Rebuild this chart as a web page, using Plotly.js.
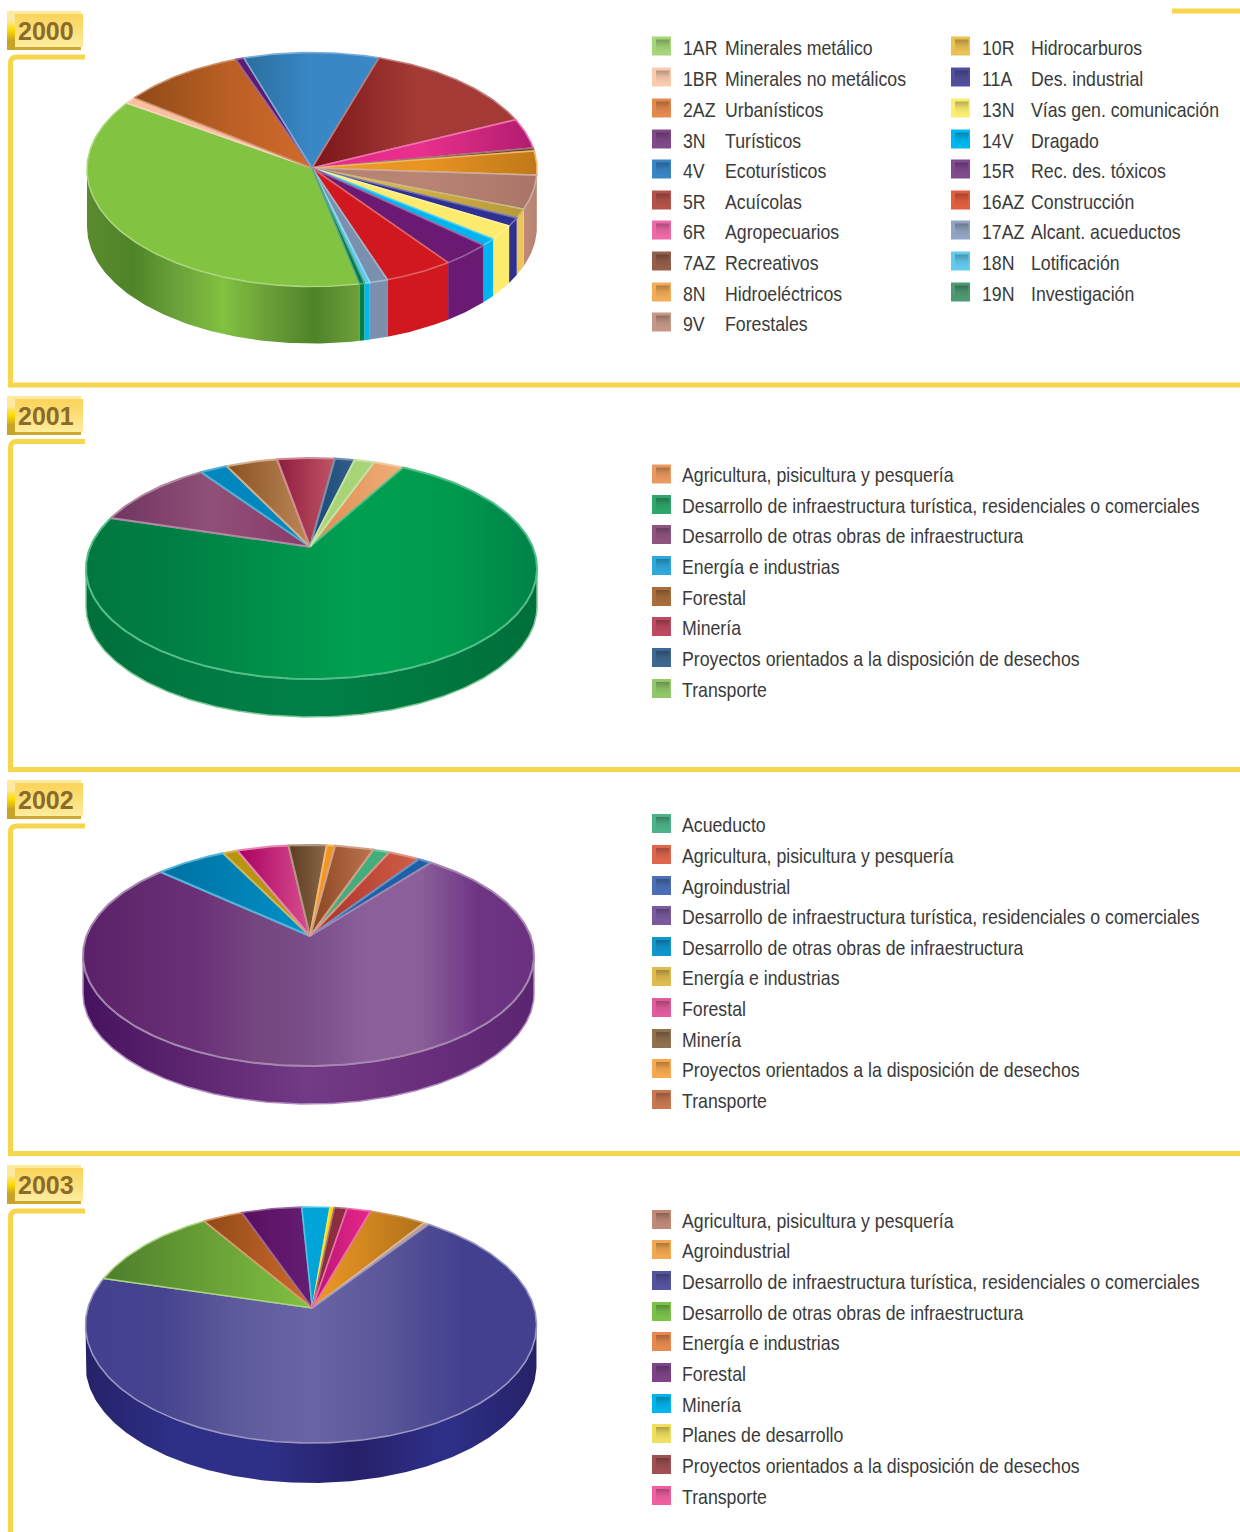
<!DOCTYPE html>
<html><head><meta charset="utf-8">
<script src="https://cdn.plot.ly/plotly-3.0.1.min.js"></script>
<style>html,body{margin:0;padding:0;background:#fff;overflow:hidden}#c{width:1240px;height:1532px}</style>
</head><body><div id="c"></div>
<script>
// ---------- DATA ----------
const years = ['2000','2001','2002','2003'];

const codes2000 = ['1AR','1BR','2AZ','3N','4V','5R','6R','7AZ','8N','9V','10R','11A','13N','14V','15R','16AZ','17AZ','18N','19N'];
const names2000 = ['Minerales metálico','Minerales no metálicos','Urbanísticos','Turísticos','Ecoturísticos','Acuícolas','Agropecuarios','Recreativos','Hidroeléctricos','Forestales','Hidrocarburos','Des. industrial','Vías gen. comunicación','Dragado','Rec. des. tóxicos','Construcción','Alcant. acueductos','Lotificación','Investigación'];
const values2000 = [38.0,0.9,9.0,0.6,9.7,13.2,4.05,0.4,3.3,4.75,1.3,1.2,2.1,1.1,3.45,4.9,1.3,0.4,0.35];

const names2001 = ['Agricultura, pisicultura y pesquería','Desarrollo de infraestructura turística, residenciales o comerciales','Desarrollo de otras obras de infraestructura','Energía e industrias','Forestal','Minería','Proyectos orientados a la disposición de desechos','Transporte'];
const values2001 = [2.2,75.9,9.3,2.0,3.7,4.1,1.4,1.4];

const names2002 = ['Acueducto','Agricultura, pisicultura y pesquería','Agroindustrial','Desarrollo de infraestructura turística, residenciales o comerciales','Desarrollo de otras obras de infraestructura','Energía e industrias','Forestal','Minería','Proyectos orientados a la disposición de desechos','Transporte'];
const values2002 = [1.2,2.3,1.0,79.5,5.2,1.05,3.7,2.7,0.6,2.75];

const names2003 = ['Agricultura, pisicultura y pesquería','Agroindustrial','Desarrollo de infraestructura turística, residenciales o comerciales','Desarrollo de otras obras de infraestructura','Energía e industrias','Forestal','Minería','Planes de desarrollo','Proyectos orientados a la disposición de desechos','Transporte'];
const values2003 = [0.4,4.1,72.7,10.7,2.9,4.3,2.0,0.3,0.9,1.7];
// clockwise drawing order of the 2003 slices (index into the legend order)
const order2003 = [1,0,2,3,4,5,6,7,8,9];

// ---------- STYLE ----------
const swatch2000 = ['#A5D67A','#FBCBB0','#E58A4E','#804A8A','#3A85C5','#B5534A','#EE6AA8','#965E4C','#F4AC58','#C59888','#EBC255','#52509E','#FCEE72','#00B8F0','#824A90','#E2603F','#92A5C2','#63CBEE','#4E9A72'];
const swatch2001 = ['#EA9A60','#2FA66A','#8F5580','#2FA8DC','#A86E3C','#BC4A60','#3D6890','#92C86A'];
const swatch2002 = ['#4DB28A','#E0674E','#4C6FB8','#7C5AA0','#1098CC','#E0BC50','#E25C9C','#90704E','#F8A850','#C87850'];
const swatch2003 = ['#C08A78','#F2A850','#5454A0','#7CC24A','#E68A50','#7E4488','#00B4EC','#F0E060','#A05050','#F060A0'];

const top2000 = [['#82C341'],['#F9BFA0'],['#8F4A18','#B85E24','#D26A2C'],['#5E1A70'],['#2A6E9E','#3A87C6','#3A87C6'],['#7A1519','#A33A35','#A33A35'],['#E6288A','#E8308C','#B01C6E'],['#6B3A2A'],['#EE9A24','#E89422','#C07818'],['#B58070','#B88574','#A87568'],['#EFC24E','#B59A3A'],['#2E3192'],['#FDEB6E'],['#00B5EF'],['#6A1A72'],['#D0181E'],['#7B90AF'],['#5BC8EE'],['#007A4C']];
const wall2000 = [['#5A8A2E','#4F8428','#6BA23A','#82C141','#6A9E38','#4F8329','#6D9F3B'],null,null,null,null,null,null,null,null,['#C08A78','#B58371'],['#EBC55A'],null,null,null,null,null,null,['#00B8EE'],['#00804D']];
const top2001 = [['#DE8C4E','#EFAE78'],['#00773F','#007F45','#008F4A','#00A050','#009A4E','#008348'],['#6F3560','#8F5078','#8A3A6A'],['#0088BE'],['#8A5020','#BC8858'],['#8E1C3E','#C05565'],['#174A76','#355C8A'],['#A8D478']];
const wall2001 = [null,['#006F3B','#007A42','#008048','#00783F','#006F3B']];
const top2002 = [['#43AE7C'],['#A83028','#D06048'],['#1E5FA8'],['#5A2069','#62296F','#6A2F78','#74457F','#7A4E88','#8A5F9A','#8A5F9A','#6F3585','#6B3080'],['#0070A0','#0091C8'],['#B8940F'],['#A80060','#D84E8E'],['#5C3C20','#8A6848'],['#F29420'],['#8A4620','#BC7450']];
const wall2002 = [null,null,null,['#46125F','#5E2670','#733A85','#6A2F7C','#5A2570']];
const top2003 = [['#C49A84'],['#EF9A24','#B0701A'],['#43418F','#46448F','#5D5A9C','#6A64A4','#5A5699','#43418F','#43418F'],['#4E7E2C','#82C141'],['#8F4A18','#D0692A'],['#5A0E62','#651E72'],['#00A4D8'],['#F4D800'],['#8A2E40'],['#B81473','#E6288A']];
const wall2003 = [null,null,['#262268','#2E3088','#2E3088','#26206A','#2E3088','#262268']];

const frameColor = '#F7D54C';
const textFont = '"Liberation Sans",sans-serif';
const narrow = 0.843; // legend lettering in the reference is a condensed cut

// Pie geometry in page pixels
const pies = [
 {values:values2000, top:top2000, wall:wall2000, start:167.8, cx:312, cy:169.5, rx:225, ry:117, ax:312, ay:168, depth:57, rim:false, stroke:1.6},
 {values:values2001, top:top2001, wall:wall2001, start:16.06, cx:311.5, cy:568.5, rx:225.5, ry:110.5, ax:310, ay:546.7, depth:38, rim:'#7FC795', stroke:2},
 {values:values2002, top:top2002, wall:wall2002, start:16.7, cx:308.5, cy:955.5, rx:225.5, ry:110.5, ax:310, ay:936, depth:38, rim:'#B08CC0', stroke:2},
 {values:order2003.map(i=>values2003[i]), top:order2003.map(i=>top2003[i]), wall:order2003.map(i=>wall2003[i]), start:15.3, cx:311, cy:1325, rx:225.5, ry:118, ax:312.3, ay:1308, depth:40, rim:false, stroke:1.6}
];

// ---------- HELPERS ----------
function rgb(h){return [1,3,5].map(i=>parseInt(h.substr(i,2),16));}
function mix(h,t,f){const a=rgb(h),b=rgb(t);return 'rgb('+a.map((v,i)=>Math.round(v+(b[i]-v)*f)).join(',')+')';}
function scale(stops){
  if(stops.length===1) return [[0,stops[0]],[1,stops[0]]];
  return stops.map((c,i)=>[i/(stops.length-1),c]);
}
const traces=[];
function poly(xs,ys,grad,line,lw){
  traces.push({type:'scatter',mode:'lines',x:xs,y:ys,fill:'toself',hoverinfo:'skip',showlegend:false,
    fillgradient:grad,line:{color:line||'rgba(0,0,0,0)',width:lw||0,shape:'linear'}});
}
function arc(p,a,b,dy){
  const xs=[],ys=[],n=Math.max(2,Math.ceil(Math.abs(b-a)));
  for(let i=0;i<=n;i++){const t=(a+(b-a)*i/n)*Math.PI/180;
    xs.push(p.cx+p.rx*Math.sin(t));ys.push(p.cy-p.ry*Math.cos(t)+(dy||0));}
  return [xs,ys];
}
function rect(x0,y0,x1,y1,stops){
  poly([x0,x1,x1,x0,x0],[y0,y0,y1,y1,y0],{type:'vertical',colorscale:scale(stops),start:y0,stop:y1});
}

// ---------- PIES ----------
pies.forEach(p=>{
  const total=p.values.reduce((s,v)=>s+v,0);
  const spans=[];let a=p.start;
  p.values.forEach(v=>{const b=a+v/total*360;spans.push([a,b]);a=b;});
  // walls: only the front half of the cylinder is visible
  spans.forEach((s,i)=>{
    [[90,270],[450,630]].forEach(w=>{
      const l=Math.max(s[0],w[0]),h=Math.min(s[1],w[1]);
      if(h<=l) return;
      const up=arc(p,l,h,0),dn=arc(p,h,l,p.depth);
      const stops=p.wall[i]||p.top[i];
      const big=stops.length>2;
      const g={type:'horizontal',colorscale:scale(stops)};
      if(big&&p.rim){g.start=p.cx-p.rx;g.stop=p.cx+p.rx;}
      poly(up[0].concat(dn[0],[up[0][0]]),up[1].concat(dn[1],[up[1][0]]),g,p.rim||null,p.rim?1.5:0);
    });
  });
  // top faces
  spans.forEach((s,i)=>{
    const r=arc(p,s[0],s[1],0);
    const stops=p.top[i];
    const g={type:'horizontal',colorscale:scale(stops)};
    if(stops.length>5){g.start=p.cx-p.rx;g.stop=p.cx+p.rx;}
    const last=stops[Math.floor(stops.length/2)];
    poly([p.ax].concat(r[0],[p.ax]),[p.ay].concat(r[1],[p.ay]),g,mix(last,'#FFFFFF',0.32),p.stroke);
  });
});

// ---------- LEGENDS ----------
const ann=[];
function label(x,y,t,size,color,bold,center){
  ann.push({x,y,xref:'x',yref:'y',text:t,showarrow:false,xanchor:center?'center':'left',yanchor:'middle',
    font:{family:textFont,size,color},
    borderpad:0,borderwidth:0,align:'left'});
}
function swatch(x,yc,c){
  const y0=yc-9.5;
  rect(x,y0,x+19,y0+19,[c]);
  rect(x+4,y0+3,x+17.5,y0+16,[mix(c,'#000000',0.28),mix(c,'#000000',0.08),c]);
}
const fs=21, ink='#3A3A3A';
const rows2000=[47.5,78.5,109.5,140.5,170.5,201.5,231.5,262.5,293.5,323.5];
codes2000.forEach((c,i)=>{
  const col=i<10?0:1,y=rows2000[col?i-10:i];
  swatch(col?951:652,y-1.5,swatch2000[i]);
  label(col?982:683,y,c,fs,ink);
  label(col?1031:725,y,names2000[i],fs,ink);
});
const rows=[
 [474.5,505,535,566,597,627,658,689],
 [824,855,886,916,947,977,1008,1039,1069,1100],
 [1220,1250,1281,1312,1342,1373,1404,1434,1465,1496]];
[[names2001,swatch2001],[names2002,swatch2002],[names2003,swatch2003]].forEach((d,k)=>{
  d[0].forEach((n,i)=>{
    swatch(652,rows[k][i]-0.5,d[1][i]);
    label(682,rows[k][i],n,fs,ink);
  });
});

// ---------- FRAMES AND YEAR BADGES ----------
const frames=[[57,385],[441.5,769.5],[826,1153.5],[1211,1560]];
const shapes=frames.map(f=>({type:'path',layer:'below',
  path:`M85,${f[0]} L17,${f[0]} Q10.5,${f[0]} 10.5,${f[0]+6.5} L10.5,${f[1]} L1240,${f[1]}`,
  line:{color:frameColor,width:5}}));
shapes.push({type:'path',layer:'below',path:'M1172,11 L1240,11',line:{color:frameColor,width:5}});
const badgeY=[11,396,780,1165];
years.forEach((yr,i)=>{
  const y=badgeY[i];
  rect(7,y,81,y+39,['#FDE9A0','#FDE9A0','#FFD800','#C9A227','#C9A227']);
  rect(15,y+3,83,y+36,['#FAD45A','#FCDF78','#FEEDA0']);
  rect(15,y+36,81,y+39,['#CFA832']);
  label(46,y+20,'<b>'+yr+'</b>',25,'#8B6B2A',true,true);
});

Plotly.newPlot('c',traces,{
  width:1240,height:1532,margin:{l:0,r:0,t:0,b:0,pad:0},
  paper_bgcolor:'#FFFFFF',plot_bgcolor:'#FFFFFF',showlegend:false,
  xaxis:{range:[0,1240],visible:false,fixedrange:true},
  yaxis:{range:[1532,0],visible:false,fixedrange:true},
  shapes:shapes,annotations:ann,hovermode:false
},{displayModeBar:false,staticPlot:true}).then(gd=>{
  // condense legend lettering to the reference's narrow cut (stays real text)
  gd.querySelectorAll('.annotation-text').forEach(t=>{
    if(years.includes(t.textContent)) return;
    const w=t.getComputedTextLength();
    t.setAttribute('textLength',(w*narrow).toFixed(1));
    t.setAttribute('lengthAdjust','spacingAndGlyphs');
    // keep the annotation's background box as wide as the condensed text
    const g=t.closest('.annotation-text-g');
    if(g) g.querySelectorAll('rect').forEach(r=>{
      const rw=parseFloat(r.getAttribute('width'));
      if(rw) r.setAttribute('width',(rw*narrow).toFixed(1));
    });
  });
});
</script></body></html>
